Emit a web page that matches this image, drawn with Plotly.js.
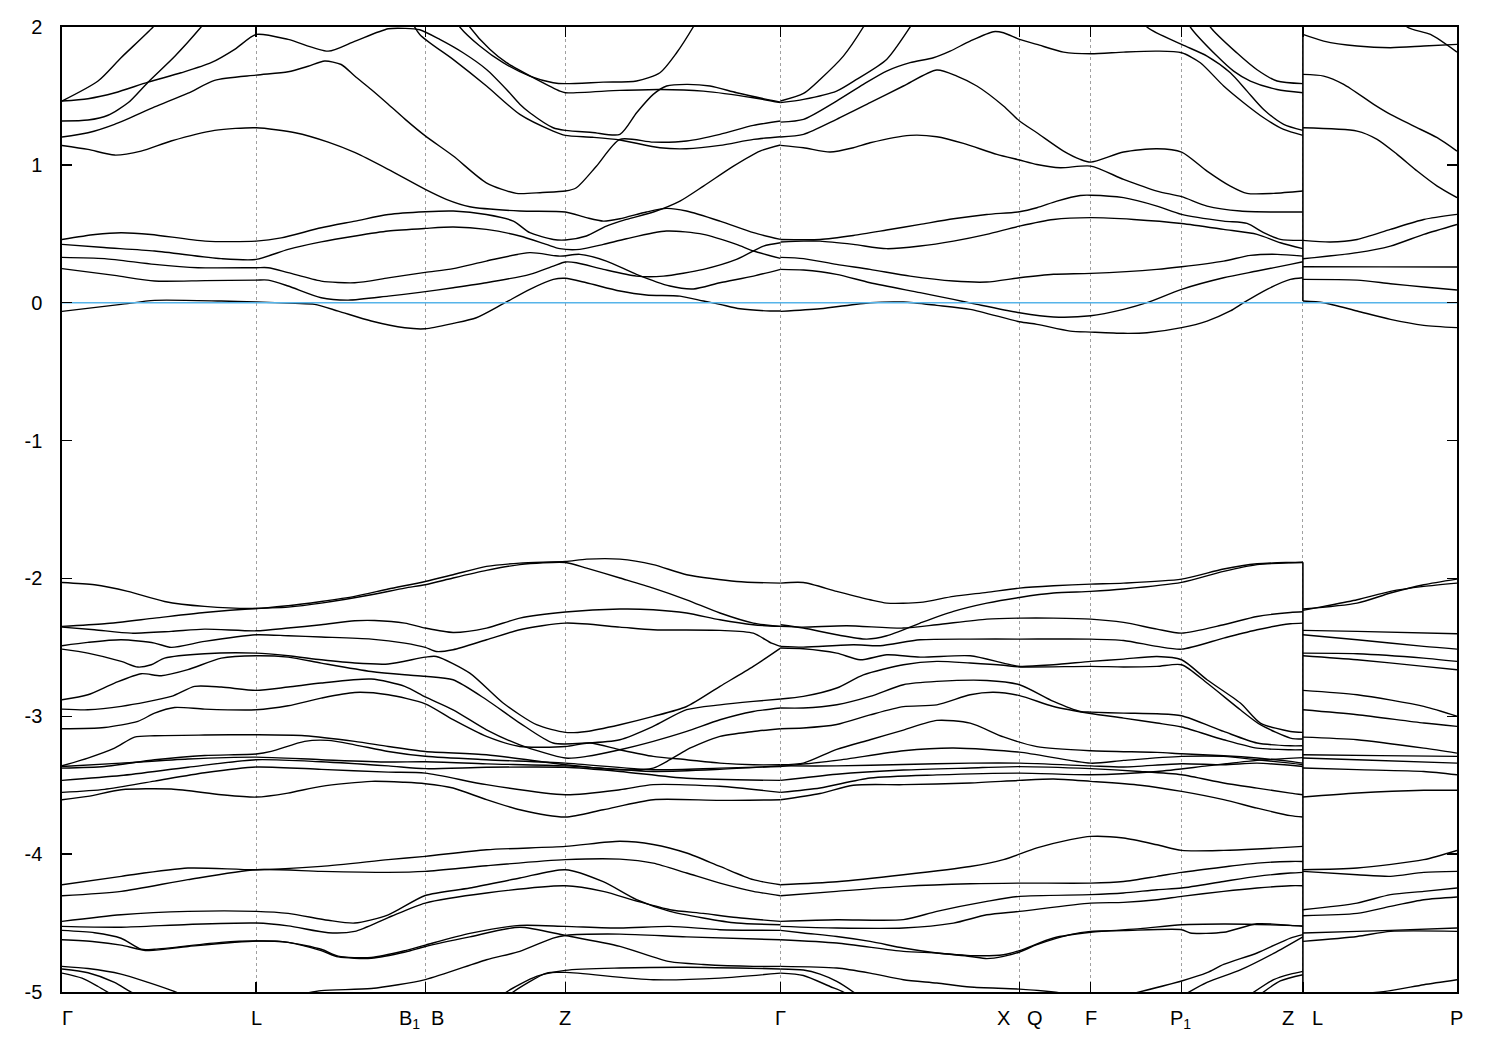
<!DOCTYPE html>
<html>
<head>
<meta charset="utf-8">
<script src="https://cdn.plot.ly/plotly-3.0.1.min.js"></script>
<style>html,body{margin:0;padding:0;background:#fff;}</style>
</head>
<body>
<div id="chart" style="width:1500px;height:1050px;"></div>
<script>
// k-path (arbitrary path-length units) and labels
const kNodes = [0, 1.94, 3.63, 5.03, 7.18, 9.57, 10.28, 11.19, 12.40, 13.94];
const kBreak = 12.40;
const labelK = [0.05, 1.94, 3.475, 3.755, 5.03, 7.18, 9.405, 9.725, 10.28, 11.175, 12.255, 12.545, 13.935];
const labelText = ['Γ','L','B<sub>1</sub>','B','Z','Γ','X','Q','F','P<sub>1</sub>','Z','L','P'];
const energyTicks = [-5,-4,-3,-2,-1,0,1,2];
const energyTickText = ['-5','-4','-3','-2','-1','0','1','2'];
const energyRange = [-5, 2];
const fermiLevel = 0;

// Bands above the gap (k, E pairs) on Γ-L-B1|B-Z-Γ-X|Q-F-P1-Z
const upperMain = [
 [0,1.463, 0.36,1.608, 0.59,1.777, 0.91,2.0, 1.05,2.12],
 [0,1.463, 0.26,1.48, 0.53,1.523, 0.86,1.60, 1.19,1.668, 1.49,1.741, 1.73,1.84, 1.94,1.946, 2.26,1.91, 2.66,1.825, 2.93,1.898, 3.26,1.987, 3.43,1.99, 3.575,1.98, 3.775,1.91, 4.008,1.813, 4.242,1.692, 4.442,1.547, 4.575,1.44, 4.675,1.378, 4.908,1.269, 5.03,1.25, 5.3,1.235, 5.575,1.221, 5.742,1.378, 5.908,1.511, 6.042,1.572, 6.242,1.584, 6.475,1.572, 6.742,1.523, 7.042,1.475, 7.18,1.455],
 [0,1.318, 0.26,1.325, 0.46,1.36, 0.66,1.45, 0.86,1.60, 1.13,1.79, 1.39,2.0, 1.5,2.1],
 [3.45,2.1, 3.575,1.946, 3.908,1.765, 4.242,1.572, 4.575,1.366, 4.908,1.245, 5.03,1.214, 5.3,1.20, 5.575,1.18, 5.975,1.124, 6.24,1.117, 6.575,1.141, 6.91,1.185, 7.18,1.204],
 [3.85,2.15, 3.975,2.0, 4.175,1.862, 4.408,1.741, 4.675,1.644, 4.908,1.596, 5.03,1.589, 5.408,1.60, 5.742,1.608, 5.975,1.668, 6.142,1.813, 6.308,2.0, 6.4,2.12],
 [3.95,2.15, 4.075,2.0, 4.275,1.838, 4.442,1.741, 4.742,1.62, 4.975,1.535, 5.03,1.523, 5.575,1.54, 5.975,1.547, 6.408,1.535, 6.908,1.487, 7.18,1.451],
 [0,1.202, 0.26,1.233, 0.525,1.294, 0.925,1.42, 1.26,1.52, 1.525,1.613, 1.94,1.651, 2.26,1.675, 2.46,1.715, 2.625,1.753, 2.79,1.728, 2.925,1.644, 3.09,1.547, 3.26,1.44, 3.43,1.33, 3.63,1.21, 3.91,1.064, 4.24,0.87, 4.54,0.793, 4.80,0.80, 5.03,0.81, 5.14,0.834, 5.34,0.99, 5.575,1.185, 5.908,1.165, 6.242,1.173, 6.575,1.221, 6.908,1.286, 7.18,1.318],
 [0,1.141, 0.26,1.112, 0.525,1.071, 0.79,1.10, 1.09,1.173, 1.525,1.25, 1.94,1.269, 2.33,1.233, 2.66,1.165, 2.93,1.088, 3.26,0.967, 3.63,0.822, 3.84,0.75, 4.075,0.696, 4.575,0.665, 5.03,0.658, 5.24,0.617, 5.41,0.592, 5.575,0.609, 5.84,0.658, 6.04,0.684, 6.24,0.665, 6.575,0.592, 6.91,0.508, 7.18,0.459],
 [0,0.459, 0.33,0.495, 0.59,0.508, 0.89,0.495, 1.43,0.447, 1.94,0.447, 2.19,0.47, 2.59,0.544, 2.93,0.592, 3.26,0.64, 3.63,0.66, 3.91,0.665, 4.24,0.64, 4.51,0.592, 4.675,0.508, 4.91,0.459, 5.03,0.455, 5.24,0.484, 5.44,0.556, 5.64,0.604, 5.91,0.658, 6.175,0.737, 6.41,0.846, 6.71,0.991, 6.975,1.10, 7.18,1.144],
 [0,0.423, 0.42,0.40, 0.925,0.375, 1.59,0.32, 1.94,0.314, 2.26,0.387, 2.59,0.441, 2.93,0.484, 3.26,0.52, 3.63,0.539, 3.91,0.549, 4.24,0.532, 4.575,0.484, 4.84,0.423, 4.975,0.392, 5.175,0.387, 5.41,0.423, 5.64,0.464, 6.04,0.52, 6.41,0.496, 6.74,0.423, 6.91,0.375, 7.18,0.322],
 [0,0.329, 0.425,0.32, 0.925,0.278, 1.36,0.254, 1.94,0.254, 2.06,0.254, 2.26,0.218, 2.59,0.157, 2.925,0.145, 3.26,0.18, 3.63,0.22, 3.91,0.247, 4.24,0.302, 4.675,0.363, 4.975,0.338, 5.175,0.351, 5.44,0.302, 5.74,0.206, 6.075,0.121, 6.31,0.10, 6.575,0.145, 6.91,0.193, 7.18,0.242],
 [0,0.247, 0.525,0.198, 0.925,0.157, 1.43,0.16, 1.94,0.164, 2.06,0.164, 2.26,0.121, 2.59,0.036, 2.86,0.019, 3.26,0.048, 3.575,0.075, 3.91,0.109, 4.24,0.145, 4.675,0.206, 4.91,0.266, 5.03,0.295, 5.14,0.29, 5.41,0.242, 5.74,0.193, 6.01,0.193, 6.41,0.242, 6.74,0.314, 7.01,0.411, 7.18,0.435],
 [0,-0.063, 0.59,-0.012, 0.925,0.017, 1.59,0.012, 1.94,0.005, 2.33,-0.005, 2.525,-0.012, 2.76,-0.061, 3.09,-0.133, 3.425,-0.182, 3.63,-0.189, 3.91,-0.15, 4.14,-0.109, 4.41,-0.007, 4.675,0.097, 4.91,0.169, 5.03,0.177, 5.24,0.145, 5.575,0.085, 5.84,0.056, 6.175,0.048, 6.41,0.012, 6.575,-0.012, 6.775,-0.044, 7.075,-0.06, 7.18,-0.06],
 [7.18,1.463, 7.41,1.518, 7.575,1.62, 7.808,1.789, 8.008,2.0, 8.1,2.12],
 [7.18,1.451, 7.41,1.475, 7.74,1.535, 7.94,1.62, 8.24,1.765, 8.475,2.0, 8.58,2.12],
 [7.18,1.31, 7.41,1.33, 7.74,1.463, 8.008,1.584, 8.24,1.68, 8.475,1.741, 8.708,1.777, 8.875,1.825, 9.075,1.898, 9.308,1.966, 9.408,1.958, 9.568,1.91, 9.742,1.874, 10.008,1.818, 10.28,1.806, 10.608,1.818, 10.942,1.825, 11.188,1.813, 11.375,1.741, 11.608,1.572, 11.808,1.451, 12.008,1.342, 12.208,1.257, 12.40,1.214],
 [7.18,1.202, 7.41,1.221, 7.74,1.33, 8.075,1.451, 8.408,1.572, 8.742,1.688, 8.942,1.644, 9.142,1.572, 9.408,1.427, 9.568,1.318, 9.742,1.233, 10.008,1.10, 10.175,1.04, 10.28,1.02, 10.608,1.093, 10.942,1.117, 11.188,1.093, 11.442,0.955, 11.675,0.846, 11.842,0.793, 12.108,0.793, 12.40,0.81],
 [7.18,1.141, 7.41,1.124, 7.675,1.093, 7.908,1.124, 8.075,1.16, 8.475,1.214, 8.742,1.204, 9.008,1.156, 9.342,1.076, 9.568,1.035, 9.742,1.003, 9.975,0.979, 10.28,0.991, 10.608,0.895, 10.942,0.81, 11.188,0.769, 11.442,0.701, 11.775,0.665, 12.108,0.658, 12.40,0.658],
 [11.4,2.12, 11.475,2.0, 11.742,1.811, 11.942,1.69, 12.142,1.608, 12.40,1.589],
 [11.2,2.12, 11.275,2.0, 11.542,1.789, 11.708,1.68, 11.875,1.608, 12.142,1.547, 12.40,1.523],
 [10.75,2.12, 10.842,2.0, 11.188,1.874, 11.442,1.789, 11.675,1.668, 11.842,1.535, 12.008,1.402, 12.208,1.294, 12.40,1.25],
 [7.18,0.459, 7.575,0.459, 7.908,0.488, 8.24,0.527, 8.575,0.568, 8.908,0.609, 9.24,0.64, 9.568,0.66, 9.742,0.689, 9.942,0.737, 10.175,0.778, 10.28,0.78, 10.608,0.762, 10.942,0.701, 11.188,0.641, 11.608,0.592, 11.842,0.575, 12.008,0.508, 12.175,0.459, 12.40,0.452],
 [7.18,0.44, 7.41,0.447, 7.575,0.447, 7.908,0.423, 8.24,0.392, 8.575,0.411, 8.908,0.447, 9.24,0.496, 9.568,0.556, 9.908,0.604, 10.28,0.617, 10.708,0.604, 11.188,0.575, 11.608,0.532, 11.942,0.496, 12.175,0.435, 12.40,0.392],
 [7.18,0.329, 7.41,0.32, 7.74,0.278, 8.075,0.242, 8.475,0.193, 8.908,0.157, 9.24,0.15, 9.568,0.181, 9.908,0.206, 10.28,0.213, 10.942,0.242, 11.188,0.261, 11.608,0.302, 11.875,0.343, 12.142,0.351, 12.40,0.338],
 [7.18,0.242, 7.41,0.237, 7.74,0.206, 8.075,0.145, 8.575,0.073, 8.908,0.024, 9.142,-0.012, 9.568,-0.073, 9.908,-0.104, 10.28,-0.095, 10.608,-0.048, 10.842,0, 11.188,0.097, 11.608,0.181, 11.942,0.23, 12.275,0.278, 12.40,0.297],
 [7.18,-0.063, 7.575,-0.044, 8.075,0, 8.408,0.005, 8.742,-0.019, 9.075,-0.048, 9.568,-0.138, 9.742,-0.157, 10.075,-0.206, 10.28,-0.213, 10.608,-0.222, 10.842,-0.218, 11.188,-0.181, 11.442,-0.133, 11.675,-0.06, 11.808,0, 12.042,0.097, 12.275,0.169, 12.40,0.181]
];

// Bands above the gap on L-P
const upperTail = [
 [12.40,1.946, 12.608,1.898, 12.942,1.862, 13.275,1.85, 13.608,1.862, 13.94,1.874],
 [13.35,2.12, 13.442,2.0, 13.675,1.946, 13.94,1.818],
 [12.40,1.656, 12.608,1.644, 12.808,1.584, 13.108,1.439, 13.275,1.366, 13.508,1.281, 13.742,1.197, 13.94,1.10],
 [12.40,1.269, 12.942,1.245, 13.142,1.185, 13.342,1.076, 13.542,0.955, 13.742,0.846, 13.94,0.762],
 [12.40,0.452, 12.675,0.44, 12.942,0.459, 13.275,0.532, 13.608,0.604, 13.94,0.641],
 [12.40,0.319, 12.942,0.363, 13.275,0.411, 13.608,0.496, 13.94,0.568],
 [12.40,0.261, 13.17,0.26, 13.94,0.259],
 [12.40,0.169, 12.942,0.164, 13.275,0.138, 13.608,0.114, 13.94,0.092],
 [12.40,0.012, 12.608,0, 12.942,-0.06, 13.275,-0.121, 13.608,-0.164, 13.94,-0.181]
];

// Bands below the gap on Γ-...-Z
const lowerMain = [
 [0,-2.029, 0.325,-2.046, 0.658,-2.094, 1.025,-2.167, 1.425,-2.203, 1.94,-2.218, 2.26,-2.198, 2.59,-2.167, 2.925,-2.13, 3.26,-2.077, 3.63,-2.022, 3.908,-1.973, 4.242,-1.913, 4.575,-1.889, 5.03,-1.877, 5.242,-1.86, 5.575,-1.86, 5.908,-1.90, 6.242,-1.973, 6.742,-2.022, 7.18,-2.034],
 [0,-2.348, 0.425,-2.329, 0.925,-2.288, 1.425,-2.247, 1.94,-2.218, 2.26,-2.208, 2.59,-2.179, 3.09,-2.118, 3.425,-2.07, 3.63,-2.046, 3.908,-1.997, 4.242,-1.942, 4.575,-1.90, 5.03,-1.884, 5.242,-1.925, 5.575,-1.997, 5.908,-2.07, 6.242,-2.155, 6.575,-2.251, 6.908,-2.324, 7.18,-2.348],
 [0,-2.353, 0.325,-2.372, 0.692,-2.397, 1.092,-2.384, 1.425,-2.368, 1.94,-2.38, 2.26,-2.36, 2.59,-2.336, 2.925,-2.307, 3.125,-2.305, 3.425,-2.324, 3.63,-2.36, 3.908,-2.392, 4.242,-2.36, 4.575,-2.288, 5.03,-2.244, 5.575,-2.222, 5.908,-2.227, 6.242,-2.251, 6.575,-2.30, 6.908,-2.336, 7.18,-2.348],
 [0,-2.488, 0.258,-2.464, 0.592,-2.445, 0.925,-2.469, 1.092,-2.5, 1.425,-2.457, 1.94,-2.409, 2.26,-2.416, 2.59,-2.425, 3.09,-2.44, 3.425,-2.469, 3.63,-2.50, 3.74,-2.53, 3.908,-2.517, 4.242,-2.445, 4.575,-2.372, 5.03,-2.324, 5.575,-2.353, 5.908,-2.372, 6.575,-2.377, 6.908,-2.397, 7.09,-2.47, 7.18,-2.493],
 [0,-2.513, 0.258,-2.542, 0.592,-2.602, 0.758,-2.643, 0.892,-2.626, 1.025,-2.578, 1.425,-2.546, 1.94,-2.542, 2.26,-2.561, 2.59,-2.59, 2.925,-2.614, 3.26,-2.621, 3.63,-2.571, 3.74,-2.566, 4.075,-2.687, 4.408,-2.904, 4.742,-3.061, 5.03,-3.117, 5.242,-3.11, 5.575,-3.061, 5.908,-3.001, 6.242,-2.929, 6.575,-2.783, 6.908,-2.638, 7.18,-2.505],
 [0,-2.88, 0.258,-2.844, 0.525,-2.759, 0.792,-2.691, 0.992,-2.706, 1.258,-2.662, 1.592,-2.578, 1.94,-2.561, 2.26,-2.571, 2.59,-2.614, 3.09,-2.675, 3.425,-2.699, 3.63,-2.71, 3.908,-2.735, 4.242,-2.88, 4.575,-3.049, 4.908,-3.194, 5.242,-3.194, 5.575,-3.17, 5.908,-3.073, 6.242,-2.952, 6.575,-2.917, 6.908,-2.892, 7.18,-2.875],
 [0,-2.948, 0.258,-2.953, 0.592,-2.928, 1.092,-2.856, 1.325,-2.783, 1.592,-2.788, 1.94,-2.812, 2.26,-2.788, 2.59,-2.759, 3.09,-2.73, 3.425,-2.783, 3.63,-2.86, 3.908,-2.953, 4.242,-3.098, 4.575,-3.207, 5.03,-3.303, 5.242,-3.291, 5.575,-3.243, 5.908,-3.182, 6.242,-3.11, 6.575,-3.025, 6.908,-2.965, 7.18,-2.94],
 [0,-3.09, 0.425,-3.081, 0.758,-3.037, 0.925,-2.977, 1.125,-2.936, 1.425,-2.948, 1.94,-2.953, 2.26,-2.924, 2.59,-2.868, 2.925,-2.827, 3.26,-2.844, 3.63,-2.91, 3.908,-3.025, 4.242,-3.146, 4.575,-3.219, 5.03,-3.219, 5.275,-3.194, 5.575,-3.243, 5.908,-3.291, 6.242,-3.315, 6.575,-3.34, 6.908,-3.352, 7.18,-3.352],
 [0,-3.359, 0.258,-3.303, 0.525,-3.231, 0.725,-3.151, 0.925,-3.141, 1.425,-3.136, 1.94,-3.134, 2.425,-3.141, 2.925,-3.182, 3.26,-3.219, 3.63,-3.255, 4.242,-3.279, 5.03,-3.352, 5.575,-3.388, 5.908,-3.376, 6.075,-3.315, 6.242,-3.243, 6.575,-3.146, 6.908,-3.11, 7.18,-3.09],
 [0,-3.376, 0.425,-3.364, 0.925,-3.315, 1.425,-3.284, 1.94,-3.274, 2.09,-3.255, 2.425,-3.182, 2.658,-3.175, 2.925,-3.207, 3.26,-3.255, 3.63,-3.29, 4.242,-3.315, 5.03,-3.34, 5.908,-3.388, 6.575,-3.376, 7.18,-3.364],
 [0,-3.364, 0.59,-3.34, 1.26,-3.31, 1.94,-3.296, 2.59,-3.315, 3.26,-3.332, 3.63,-3.33, 4.242,-3.345, 5.03,-3.36, 5.908,-3.40, 6.575,-3.385, 7.18,-3.36],
 [0,-3.465, 0.59,-3.43, 1.26,-3.37, 1.94,-3.315, 2.59,-3.33, 3.26,-3.36, 3.63,-3.38, 4.242,-3.37, 5.03,-3.37, 5.575,-3.40, 6.242,-3.45, 7.18,-3.465],
 [0,-3.552, 0.425,-3.53, 0.925,-3.47, 1.425,-3.41, 1.94,-3.368, 2.59,-3.385, 3.26,-3.405, 3.63,-3.412, 4.242,-3.496, 5.03,-3.569, 5.575,-3.533, 5.908,-3.496, 6.575,-3.508, 7.18,-3.552],
 [0,-3.605, 0.258,-3.581, 0.592,-3.533, 1.092,-3.528, 1.592,-3.569, 1.94,-3.586, 2.258,-3.557, 2.592,-3.508, 3.092,-3.472, 3.425,-3.479, 3.63,-3.489, 3.908,-3.52, 4.242,-3.605, 4.575,-3.678, 5.03,-3.731, 5.408,-3.678, 5.908,-3.605, 6.575,-3.61, 7.18,-3.605],
 [0,-4.222, 0.592,-4.161, 1.258,-4.101, 1.94,-4.113, 2.59,-4.089, 3.26,-4.04, 3.63,-4.016, 4.242,-3.968, 5.03,-3.944, 5.575,-3.907, 5.908,-3.93, 6.242,-3.992, 6.575,-4.089, 6.908,-4.185, 7.18,-4.222],
 [0,-4.302, 0.592,-4.27, 1.258,-4.185, 1.94,-4.113, 2.59,-4.125, 3.26,-4.132, 3.63,-4.125, 4.242,-4.084, 5.03,-4.04, 5.575,-4.036, 5.908,-4.065, 6.242,-4.137, 6.575,-4.21, 6.908,-4.27, 7.18,-4.302],
 [0,-4.488, 0.59,-4.44, 1.26,-4.415, 1.94,-4.415, 2.26,-4.43, 2.66,-4.48, 2.925,-4.5, 3.26,-4.44, 3.63,-4.30, 4.075,-4.246, 4.575,-4.173, 5.03,-4.113, 5.408,-4.20, 5.742,-4.33, 6.075,-4.415, 6.408,-4.463, 6.742,-4.50, 7.18,-4.512],
 [0,-4.524, 0.59,-4.53, 1.26,-4.51, 1.94,-4.50, 2.26,-4.52, 2.66,-4.57, 2.925,-4.56, 3.26,-4.46, 3.63,-4.355, 4.242,-4.282, 5.03,-4.229, 5.408,-4.27, 5.742,-4.34, 6.075,-4.403, 6.408,-4.43, 6.742,-4.46, 7.18,-4.488],
 [0,-4.553, 0.325,-4.57, 0.59,-4.61, 0.79,-4.69, 0.925,-4.69, 1.59,-4.64, 1.94,-4.63, 2.26,-4.64, 2.59,-4.69, 2.76,-4.74, 3.09,-4.75, 3.43,-4.70, 3.63,-4.66, 4.075,-4.575, 4.575,-4.517, 5.03,-4.524, 5.575,-4.536, 6.075,-4.524, 6.575,-4.548, 7.18,-4.553],
 [0,-4.621, 0.325,-4.635, 0.59,-4.66, 0.86,-4.70, 1.26,-4.67, 1.94,-4.63, 2.26,-4.64, 2.59,-4.70, 2.76,-4.745, 3.09,-4.755, 3.43,-4.71, 3.63,-4.67, 4.075,-4.60, 4.575,-4.53, 5.03,-4.59, 5.575,-4.669, 6.075,-4.78, 6.408,-4.80, 6.908,-4.814, 7.18,-4.814],
 [2.3,-5.03, 2.59,-4.99, 3.09,-4.975, 3.63,-4.91, 4.242,-4.766, 4.575,-4.705, 4.908,-4.609, 5.03,-4.59, 5.575,-4.58, 6.242,-4.60, 7.18,-4.621],
 [4.40,-5.03, 4.442,-5.0, 4.742,-4.887, 5.03,-4.843, 5.575,-4.826, 6.242,-4.82, 7.18,-4.833],
 [4.46,-5.03, 4.508,-5.0, 4.842,-4.863, 5.03,-4.858, 5.908,-4.911, 6.575,-4.899, 7.18,-4.863],
 [0,-4.814, 0.26,-4.83, 0.59,-4.87, 0.86,-4.93, 1.1,-4.99, 1.3,-5.05],
 [0,-4.833, 0.26,-4.86, 0.525,-4.93, 0.69,-5.0, 0.85,-5.05],
 [0,-4.863, 0.2,-4.90, 0.36,-4.96, 0.5,-5.02],
 [7.18,-2.034, 7.408,-2.03, 7.742,-2.094, 8.075,-2.155, 8.242,-2.179, 8.575,-2.174, 8.908,-2.13, 9.242,-2.101, 9.568,-2.07, 9.908,-2.053, 10.28,-2.041, 10.608,-2.034, 11.188,-2.005, 11.608,-1.932, 11.942,-1.894, 12.275,-1.884, 12.40,-1.882],
 [7.18,-2.336, 7.408,-2.36, 7.742,-2.409, 8.042,-2.44, 8.242,-2.416, 8.575,-2.324, 8.908,-2.239, 9.242,-2.179, 9.568,-2.138, 9.908,-2.106, 10.28,-2.094, 10.608,-2.077, 11.188,-2.029, 11.608,-1.949, 11.942,-1.90, 12.275,-1.886, 12.40,-1.884],
 [7.18,-2.348, 7.408,-2.353, 7.84,-2.343, 8.408,-2.36, 8.742,-2.336, 9.242,-2.295, 9.568,-2.288, 9.908,-2.288, 10.28,-2.295, 10.608,-2.319, 10.942,-2.368, 11.188,-2.397, 11.608,-2.336, 11.942,-2.276, 12.275,-2.247, 12.40,-2.242],
 [7.18,-2.493, 7.408,-2.498, 7.908,-2.481, 8.175,-2.488, 8.575,-2.445, 9.075,-2.44, 9.568,-2.44, 10.28,-2.44, 10.608,-2.45, 10.942,-2.493, 11.188,-2.513, 11.608,-2.433, 11.942,-2.372, 12.275,-2.329, 12.40,-2.324],
 [7.18,-2.505, 7.408,-2.51, 7.742,-2.542, 7.975,-2.59, 8.242,-2.554, 8.575,-2.571, 9.075,-2.561, 9.408,-2.614, 9.568,-2.638, 9.908,-2.626, 10.28,-2.602, 10.608,-2.585, 10.942,-2.566, 11.188,-2.59, 11.442,-2.735, 11.775,-2.904, 11.975,-3.049, 12.275,-3.11, 12.40,-3.117],
 [7.18,-2.875, 7.408,-2.856, 7.742,-2.795, 8.008,-2.699, 8.408,-2.626, 8.742,-2.602, 9.075,-2.614, 9.408,-2.63, 9.568,-2.642, 10.28,-2.638, 10.608,-2.642, 10.942,-2.638, 11.188,-2.626, 11.442,-2.759, 11.775,-2.953, 11.975,-3.061, 12.275,-3.158, 12.40,-3.165],
 [7.18,-2.94, 7.408,-2.94, 7.742,-2.916, 8.075,-2.856, 8.408,-2.771, 8.742,-2.747, 9.242,-2.74, 9.568,-2.771, 9.908,-2.892, 10.175,-2.965, 10.28,-2.97, 10.608,-2.977, 10.942,-2.982, 11.188,-2.996, 11.608,-3.11, 11.942,-3.194, 12.275,-3.214, 12.40,-3.214],
 [7.18,-3.09, 7.408,-3.085, 7.742,-3.06, 8.075,-2.99, 8.408,-2.93, 8.742,-2.917, 9.075,-2.844, 9.308,-2.826, 9.568,-2.85, 9.908,-2.929, 10.28,-2.98, 10.608,-3.013, 10.942,-3.049, 11.188,-3.078, 11.608,-3.17, 11.942,-3.231, 12.275,-3.243, 12.40,-3.243],
 [7.18,-3.352, 7.408,-3.34, 7.742,-3.24, 8.075,-3.17, 8.408,-3.10, 8.742,-3.03, 9.075,-3.05, 9.408,-3.15, 9.742,-3.22, 10.28,-3.25, 10.942,-3.262, 11.188,-3.272, 11.608,-3.286, 11.942,-3.303, 12.275,-3.327, 12.40,-3.34],
 [7.18,-3.364, 7.742,-3.32, 8.408,-3.25, 8.908,-3.23, 9.568,-3.26, 10.28,-3.34, 10.608,-3.32, 11.188,-3.291, 11.608,-3.291, 11.942,-3.315, 12.275,-3.34, 12.40,-3.352],
 [7.18,-3.36, 7.742,-3.36, 8.408,-3.35, 9.075,-3.34, 9.568,-3.34, 10.28,-3.36, 10.608,-3.368, 11.188,-3.344, 11.608,-3.352, 11.942,-3.34, 12.40,-3.364],
 [7.18,-3.465, 7.742,-3.42, 8.408,-3.39, 9.075,-3.375, 9.568,-3.365, 10.28,-3.38, 10.775,-3.40, 11.188,-3.424, 11.608,-3.484, 11.942,-3.521, 12.275,-3.557, 12.40,-3.569],
 [7.18,-3.552, 7.575,-3.52, 8.075,-3.448, 8.742,-3.425, 9.568,-3.412, 10.28,-3.424, 10.942,-3.40, 11.442,-3.36, 11.942,-3.32, 12.40,-3.30],
 [7.18,-3.605, 7.575,-3.56, 7.908,-3.50, 8.408,-3.496, 9.075,-3.484, 9.568,-3.465, 9.908,-3.455, 10.28,-3.472, 10.775,-3.50, 11.188,-3.545, 11.608,-3.605, 11.942,-3.666, 12.275,-3.721, 12.40,-3.731],
 [7.18,-4.222, 7.742,-4.20, 8.408,-4.15, 9.075,-4.09, 9.408,-4.04, 9.742,-3.955, 10.075,-3.895, 10.28,-3.871, 10.608,-3.883, 10.942,-3.932, 11.188,-3.973, 11.608,-3.973, 11.942,-3.963, 12.275,-3.949, 12.40,-3.944],
 [7.18,-4.302, 7.742,-4.27, 8.408,-4.234, 9.075,-4.215, 9.568,-4.21, 10.28,-4.21, 10.608,-4.198, 10.942,-4.161, 11.188,-4.132, 11.608,-4.093, 11.942,-4.065, 12.275,-4.053, 12.40,-4.053],
 [7.18,-4.488, 7.742,-4.476, 8.408,-4.475, 8.742,-4.415, 9.242,-4.343, 9.568,-4.306, 10.28,-4.294, 10.608,-4.282, 10.942,-4.258, 11.188,-4.246, 11.608,-4.198, 11.942,-4.161, 12.275,-4.137, 12.40,-4.132],
 [7.18,-4.524, 7.742,-4.536, 8.408,-4.536, 8.908,-4.50, 9.242,-4.44, 9.568,-4.415, 10.28,-4.355, 10.608,-4.35, 10.942,-4.331, 11.188,-4.306, 11.608,-4.27, 11.942,-4.246, 12.275,-4.229, 12.40,-4.229],
 [7.18,-4.553, 7.408,-4.572, 7.742,-4.597, 8.075,-4.633, 8.408,-4.681, 8.742,-4.717, 9.075,-4.742, 9.242,-4.758, 9.408,-4.742, 9.568,-4.71, 9.742,-4.657, 10.075,-4.584, 10.28,-4.56, 10.608,-4.555, 11.188,-4.548, 11.275,-4.572, 11.608,-4.567, 11.942,-4.505, 12.275,-4.517, 12.40,-4.524],
 [7.18,-4.621, 7.742,-4.645, 8.408,-4.705, 8.742,-4.717, 9.075,-4.736, 9.408,-4.73, 9.568,-4.70, 9.908,-4.608, 10.28,-4.567, 10.775,-4.54, 11.188,-4.512, 11.608,-4.507, 11.942,-4.51, 12.40,-4.52],
 [7.18,-4.833, 7.408,-4.84, 7.575,-4.87, 7.742,-4.923, 7.908,-5.0, 8.0,-5.05],
 [7.18,-4.863, 7.408,-4.88, 7.675,-4.96, 7.808,-5.0, 7.9,-5.05],
 [7.18,-4.814, 7.742,-4.826, 8.075,-4.863, 8.408,-4.911, 8.742,-4.935, 9.075,-4.964, 9.568,-4.979, 9.908,-5.0, 10.1,-5.02],
 [10.6,-5.03, 11.188,-4.92, 11.442,-4.86, 11.608,-4.80, 11.942,-4.717, 12.275,-4.609, 12.40,-4.584],
 [11.19,-5.03, 11.442,-4.93, 11.775,-4.84, 12.108,-4.72, 12.40,-4.60],
 [11.85,-5.03, 12.108,-4.91, 12.275,-4.87, 12.40,-4.85],
 [11.95,-5.03, 12.175,-4.92, 12.40,-4.875]
];

// Bands below the gap on L-P
const lowerTail = [
 [12.40,-2.222, 12.942,-2.179, 13.275,-2.106, 13.608,-2.046, 13.94,-2.005],
 [12.40,-2.232, 12.608,-2.203, 12.942,-2.155, 13.275,-2.094, 13.608,-2.058, 13.94,-2.034],
 [12.40,-2.377, 12.942,-2.384, 13.94,-2.401],
 [12.40,-2.409, 12.942,-2.445, 13.608,-2.493, 13.94,-2.513],
 [12.40,-2.542, 12.942,-2.546, 13.608,-2.578, 13.94,-2.602],
 [12.40,-2.561, 12.942,-2.59, 13.608,-2.638, 13.94,-2.662],
 [12.40,-2.812, 12.942,-2.844, 13.608,-2.928, 13.94,-3.0],
 [12.40,-2.953, 12.942,-2.989, 13.608,-3.049, 13.94,-3.073],
 [12.40,-3.151, 12.942,-3.17, 13.608,-3.231, 13.94,-3.267],
 [12.40,-3.279, 13.17,-3.285, 13.94,-3.291],
 [12.40,-3.303, 12.942,-3.315, 13.94,-3.34],
 [12.40,-3.375, 12.942,-3.387, 13.608,-3.40, 13.94,-3.424],
 [12.40,-3.586, 12.942,-3.557, 13.608,-3.537, 13.94,-3.537],
 [12.40,-4.113, 12.942,-4.101, 13.608,-4.04, 13.94,-3.973],
 [12.40,-4.125, 12.942,-4.149, 13.275,-4.161, 13.608,-4.132, 13.94,-4.125],
 [12.40,-4.403, 12.942,-4.355, 13.275,-4.294, 13.608,-4.27, 13.94,-4.246],
 [12.40,-4.447, 12.942,-4.43, 13.275,-4.379, 13.608,-4.331, 13.94,-4.311],
 [12.40,-4.572, 12.942,-4.56, 13.275,-4.553, 13.94,-4.536],
 [12.40,-4.633, 12.942,-4.597, 13.275,-4.56, 13.94,-4.56],
 [12.9,-5.02, 13.275,-4.99, 13.608,-4.947, 13.94,-4.911]
];

const lineStyle = {color:'#000000', width:1.4, shape:'spline', smoothing:0.7};
const traces = [];
function addBand(arr){
  const x=[], y=[];
  for(let i=0;i<arr.length;i+=2){ x.push(arr[i]); y.push(arr[i+1]); }
  traces.push({type:'scatter', mode:'lines', x:x, y:y, line:lineStyle, hoverinfo:'skip', showlegend:false});
}
upperMain.concat(upperTail, lowerMain, lowerTail).forEach(addBand);

// Vertical jumps where the path breaks (Z|L)
function valuesAtBreak(list){
  const v=[];
  list.forEach(a=>{ for(let i=0;i<a.length;i+=2){ if(Math.abs(a[i]-kBreak)<1e-9) v.push(a[i+1]); } });
  return v;
}
const upVals = valuesAtBreak(upperMain.concat(upperTail));
const loVals = valuesAtBreak(lowerMain.concat(lowerTail));
traces.push({type:'scatter', mode:'lines', x:[kBreak,kBreak], y:[Math.min(...upVals), energyRange[1]], line:{color:'#000', width:1.6}, hoverinfo:'skip', showlegend:false});
traces.push({type:'scatter', mode:'lines', x:[kBreak,kBreak], y:[Math.max(...loVals), energyRange[0]], line:{color:'#000', width:1.6}, hoverinfo:'skip', showlegend:false});

// Fermi level
traces.push({type:'scatter', mode:'lines', x:[kNodes[0], kNodes[kNodes.length-1]], y:[fermiLevel, fermiLevel], line:{color:'#56B4E9', width:1.4}, hoverinfo:'skip', showlegend:false});

const layout = {
  width:1500, height:1050,
  margin:{l:62, r:43, t:27, b:58},
  paper_bgcolor:'#ffffff', plot_bgcolor:'#ffffff',
  font:{family:'"Liberation Sans", Arial, sans-serif', size:20, color:'#000'},
  showlegend:false,
  xaxis:{range:[kNodes[0], kNodes[kNodes.length-1]], tickvals:kNodes, showticklabels:false,
         ticks:'inside', ticklen:10, tickwidth:1.3, tickcolor:'#000', mirror:'allticks',
         showline:true, linecolor:'#000', linewidth:1.6,
         showgrid:true, gridcolor:'#a0a0a0', griddash:'dot', gridwidth:1, zeroline:false},
  yaxis:{range:energyRange, tickvals:energyTicks, ticktext:energyTickText,
         ticks:'inside', ticklen:10, tickwidth:1.3, tickcolor:'#000', mirror:'allticks',
         showline:true, linecolor:'#000', linewidth:1.6, showgrid:false, zeroline:false,
         ticklabelstandoff:14},
  annotations: labelK.map((k,i)=>({x:k, xref:'x', y:0, yref:'paper', yanchor:'top', yshift:-13,
                                   text:labelText[i], showarrow:false, font:{size:20, color:'#000'}}))
};

Plotly.newPlot('chart', traces, layout, {staticPlot:true, displayModeBar:false});
</script>
</body>
</html>
